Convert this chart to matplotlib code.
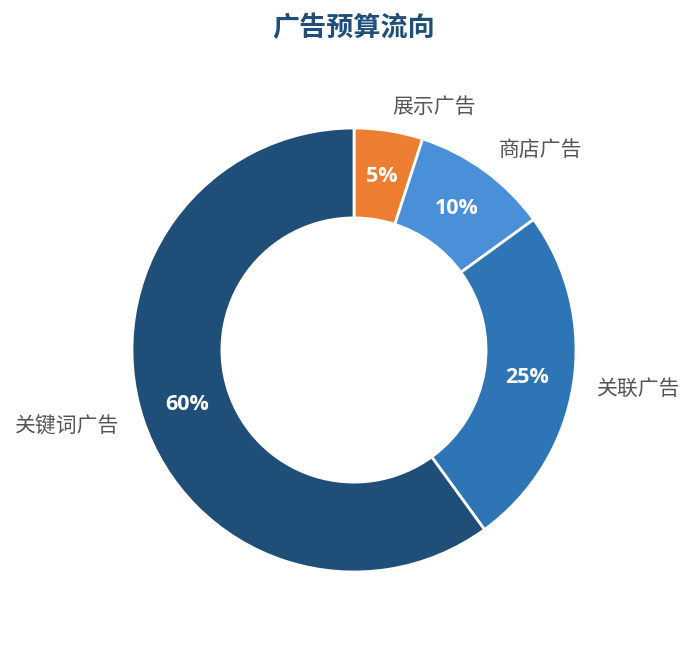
import matplotlib
matplotlib.use('Agg')
import matplotlib.pyplot as plt

plt.rcParams['font.family'] = ['Noto Sans CJK SC', 'DejaVu Sans']

# data ------------------------------------------------------------------------
CATEGORIES = ['展示广告', '商店广告', '关联广告', '关键词广告']
SHARES = [5, 10, 25, 60]
COLORS = ['#ED7D31', '#4A90D9', '#2E75B6', '#1F4E79']

W, H = 696, 645
CX, CY, R = 354, 350, 222  # pixel centre / radius of the ring

fig = plt.figure(figsize=(W / 100, H / 100), dpi=100)
ax = fig.add_axes([0, 0, 1, 1])

wedges, texts, autotexts = ax.pie(
    SHARES, labels=CATEGORIES, colors=COLORS,
    startangle=90, counterclock=False, radius=1,
    labeldistance=1.11, pctdistance=0.79,
    autopct='%d%%',
    wedgeprops={'width': 0.405, 'edgecolor': 'white', 'linewidth': 2},
    textprops={'fontsize': 15, 'color': '#555555'}
)
for t in autotexts:
    t.set_color('white')
    t.set_fontsize(15.5)
    t.set_fontweight('bold')
    t.set_family(['Open Sans', 'DejaVu Sans'])

ax.set_xlim(-CX / R, (W - CX) / R)
ax.set_ylim(-(H - CY) / R, CY / R)
ax.axis('off')

fig.text(CX / W, 1 - 28 / H, '广告预算流向', ha='center', va='center',
         fontsize=19.5, fontweight='bold', color='#1F4E79')

fig.savefig('out.png', dpi=100)
